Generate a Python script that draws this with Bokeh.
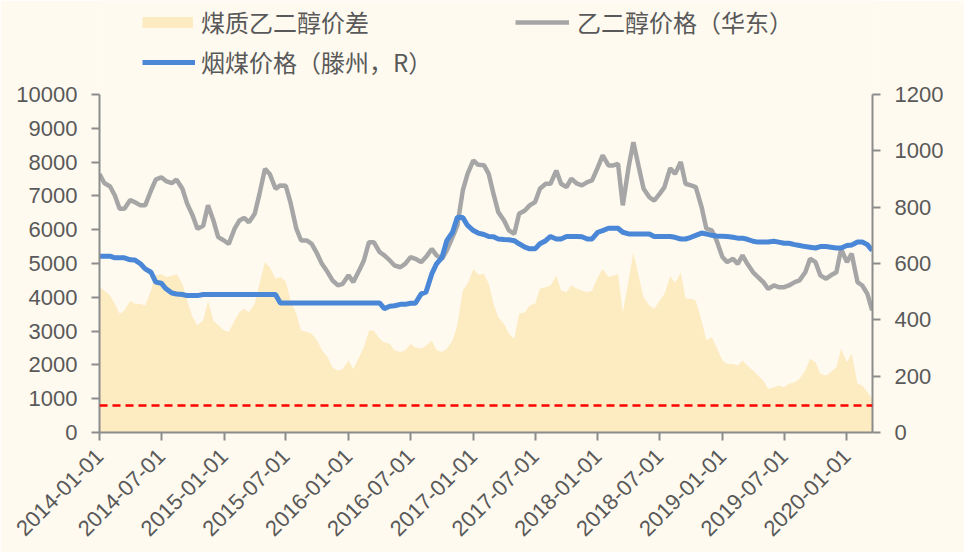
import math
from datetime import datetime
import pandas as pd
from bokeh.plotting import figure
from bokeh.models import (Range1d, LinearAxis, FixedTicker, SingleIntervalTicker, Span,
                          Legend, LegendItem, ColumnDataSource)
from bokeh.embed import file_html
from bokeh.resources import INLINE

# semi-monthly observation dates (1st and 15th), 2014-01-01 .. 2020-03-15
dates = pd.date_range("2014-01-01", "2020-03-15", freq="SMS")

# 煤质乙二醇价差 (left axis)
spread = [
    4300, 4200, 4050, 3810, 3510, 3610, 3900, 3810, 3810, 3760,
    4200, 4640, 4690, 4600, 4640, 4690, 4400, 3900, 3410, 3170,
    3310, 3900, 3310, 3170, 3020, 2970, 3310, 3560, 3660, 3560,
    3810, 4400, 5040, 4890, 4550, 4600, 4470, 3900, 3510, 3020,
    2970, 2920, 2720, 2430, 2230, 1930, 1830, 1880, 2130, 1880,
    2230, 2520, 3020, 3020, 2770, 2670, 2620, 2430, 2380, 2430,
    2620, 2520, 2480, 2570, 2720, 2430, 2380, 2480, 2720, 3170,
    4200, 4400, 4840, 4670, 4690, 4400, 3810, 3410, 3210, 2920,
    2770, 3510, 3560, 3760, 3810, 4250, 4300, 4350, 4640, 4200,
    4150, 4350, 4250, 4200, 4150, 4200, 4600, 4840, 4600, 4640,
    4690, 3560, 4500, 5330, 4600, 4000, 3760, 3660, 3900, 4100,
    4620, 4420, 4740, 3960, 3960, 3900, 3310, 2720, 2820, 2520,
    2130, 2030, 2030, 1980, 2130, 1980, 1830, 1690, 1540, 1290,
    1340, 1390, 1340, 1440, 1490, 1590, 1830, 2180, 2080, 1740,
    1690, 1790, 1930, 2480, 2080, 2330, 1440, 1390, 1190, 1000,
]

# 乙二醇价格（华东） (left axis)
eg_price = [
    7650, 7380, 7280, 7010, 6620, 6620, 6880, 6810, 6720, 6720,
    7160, 7480, 7550, 7440, 7380, 7480, 7210, 6770, 6420, 6030,
    6120, 6720, 6270, 5780, 5680, 5580, 6030, 6270, 6350, 6220,
    6470, 7060, 7800, 7650, 7210, 7310, 7300, 6800, 6030, 5680,
    5680, 5580, 5290, 4990, 4740, 4500, 4350, 4400, 4650, 4450,
    4790, 5090, 5630, 5630, 5340, 5240, 5090, 4940, 4890, 4990,
    5190, 5140, 5040, 5190, 5430, 5240, 5140, 5390, 5780, 6120,
    7160, 7650, 8050, 7920, 7910, 7650, 7060, 6520, 6270, 5980,
    5880, 6470, 6570, 6720, 6820, 7210, 7360, 7360, 7750, 7360,
    7260, 7510, 7360, 7310, 7410, 7460, 7850, 8200, 7900, 7900,
    7950, 6720, 7850, 8590, 7850, 7210, 6960, 6860, 7060, 7260,
    7820, 7650, 8000, 7360, 7310, 7260, 6670, 6030, 5980, 5680,
    5190, 5040, 5140, 4990, 5240, 4990, 4740, 4600, 4450, 4250,
    4350, 4300, 4300, 4350, 4450, 4500, 4740, 5140, 5040, 4650,
    4550, 4650, 4740, 5430, 5040, 5290, 4450, 4350, 4100, 3610,
]

# 烟煤价格（滕州，R） (right axis)
coal_price = [
    626, 626, 626, 620, 620, 620, 613, 612, 599, 581,
    569, 534, 530, 510, 495, 492, 490, 486, 486, 486,
    490, 490, 490, 490, 490, 490, 490, 490, 490, 490,
    490, 490, 490, 490, 490, 460, 460, 460, 460, 460,
    460, 460, 460, 460, 460, 460, 460, 460, 460, 460,
    460, 460, 460, 460, 460, 440, 448, 450, 455, 455,
    459, 459, 492, 498, 563, 599, 622, 681, 711, 764,
    763, 735, 717, 708, 703, 696, 695, 687, 685, 684,
    681, 670, 658, 652, 652, 670, 681, 696, 687, 687,
    696, 696, 696, 695, 687, 687, 711, 717, 725, 725,
    725, 711, 705, 705, 705, 705, 705, 696, 696, 696,
    696, 693, 687, 687, 693, 700, 708, 705, 700, 698,
    697, 696, 693, 690, 690, 686, 679, 676, 676, 676,
    679, 676, 672, 672, 667, 664, 660, 658, 655, 660,
    660, 658, 655, 655, 664, 666, 676, 676, 667, 646,
]

threshold = 800

tick_labels = ["2014-01-01", "2014-07-01", "2015-01-01", "2015-07-01", "2016-01-01",
               "2016-07-01", "2017-01-01", "2017-07-01", "2018-01-01", "2018-07-01",
               "2019-01-01", "2019-07-01", "2020-01-01"]

BG = "#FFFAF0"
AREA_C = "#FDEBC1"
AXIS_C = "#8C8C8C"
TEXT_C = "#595959"
NUM_FONT = "Liberation Sans"
CJK_FONT = "Noto Sans CJK SC"

# frame spans the full top of the page (legend lives inside it); the axes are
# bounded to 0..10000 / 0..1200, which occupy the lower 338 of the 432 px frame.
LEFT_MAX, RIGHT_MAX = 10000, 1200
SCALE = 432 / 338

src = ColumnDataSource(dict(date=dates, spread=spread, eg=eg_price, coal=coal_price))

p = figure(width=964, height=552, x_axis_type="datetime", output_backend="svg",
           toolbar_location=None,
           x_range=Range1d(start=datetime(2014, 1, 1), end=datetime(2020, 3, 16)),
           y_range=Range1d(0, LEFT_MAX * SCALE),
           min_border_left=99, min_border_right=92, min_border_top=0, min_border_bottom=120)
p.extra_y_ranges = {"right": Range1d(0, RIGHT_MAX * SCALE)}
p.background_fill_color = BG
p.border_fill_color = BG
p.outline_line_color = None
p.xgrid.visible = False
p.ygrid.visible = False

area = p.varea(x="date", y1=0, y2="spread", source=src, fill_color=AREA_C)
p.add_layout(Span(location=threshold, dimension="width", line_color="#FF0000",
                  line_width=2.5, line_dash="8 5"))
gray = p.line(x="date", y="eg", source=src, line_color="#A6A6A6", line_width=4.5)
blue = p.line(x="date", y="coal", source=src, y_range_name="right",
              line_color="#4A87D6", line_width=5)
# hidden renderer that only supplies the flat-band legend key of the area series
area_key = p.line(x="date", y="spread", source=src, line_color=AREA_C, line_width=11,
                  line_cap="butt", visible=False)

right = LinearAxis(y_range_name="right")
p.add_layout(right, "right")

tick_ms = [pd.Timestamp(t).value // 10**6 for t in tick_labels]
p.xaxis.ticker = FixedTicker(ticks=tick_ms)
p.xaxis.major_label_overrides = {ms: lab for ms, lab in zip(tick_ms, tick_labels)}
p.xaxis.major_label_orientation = math.pi / 4

p.yaxis[0].ticker = SingleIntervalTicker(interval=1000)
p.yaxis[0].bounds = (0, LEFT_MAX)
right.ticker = SingleIntervalTicker(interval=200)
right.bounds = (0, RIGHT_MAX)

for ax in [p.xaxis[0], p.yaxis[0], right]:
    ax.axis_line_color = AXIS_C
    ax.axis_line_width = 2
    ax.major_tick_line_color = AXIS_C
    ax.major_tick_line_width = 2
    ax.major_tick_out = 8
    ax.major_tick_in = 0
    ax.minor_tick_line_color = None
    ax.major_label_text_font = NUM_FONT
    ax.major_label_text_font_size = "22px"
    ax.major_label_text_color = TEXT_C
p.xaxis[0].major_label_standoff = 12
p.yaxis[0].major_label_standoff = 14
right.major_label_standoff = 14

def make_legend(renderer, label, loc, gw, gh, standoff):
    lg = Legend(items=[LegendItem(label=label, renderers=[renderer])], location=loc,
                glyph_width=gw, glyph_height=gh, label_height=gh, label_standoff=standoff,
                padding=0, margin=0, spacing=0, border_line_color=None,
                background_fill_alpha=0, label_text_font=CJK_FONT,
                label_text_font_size="24px", label_text_color=TEXT_C)
    p.add_layout(lg)

make_legend(area_key, "煤质乙二醇价差", (43, 393), 51, 30, 8)
make_legend(gray, "乙二醇价格（华东）", (416, 393), 54, 30, 8)
make_legend(blue, "烟煤价格（滕州，R）", (43, 353), 53, 30, 6)

open("out.html", "w").write(file_html(p, INLINE))
